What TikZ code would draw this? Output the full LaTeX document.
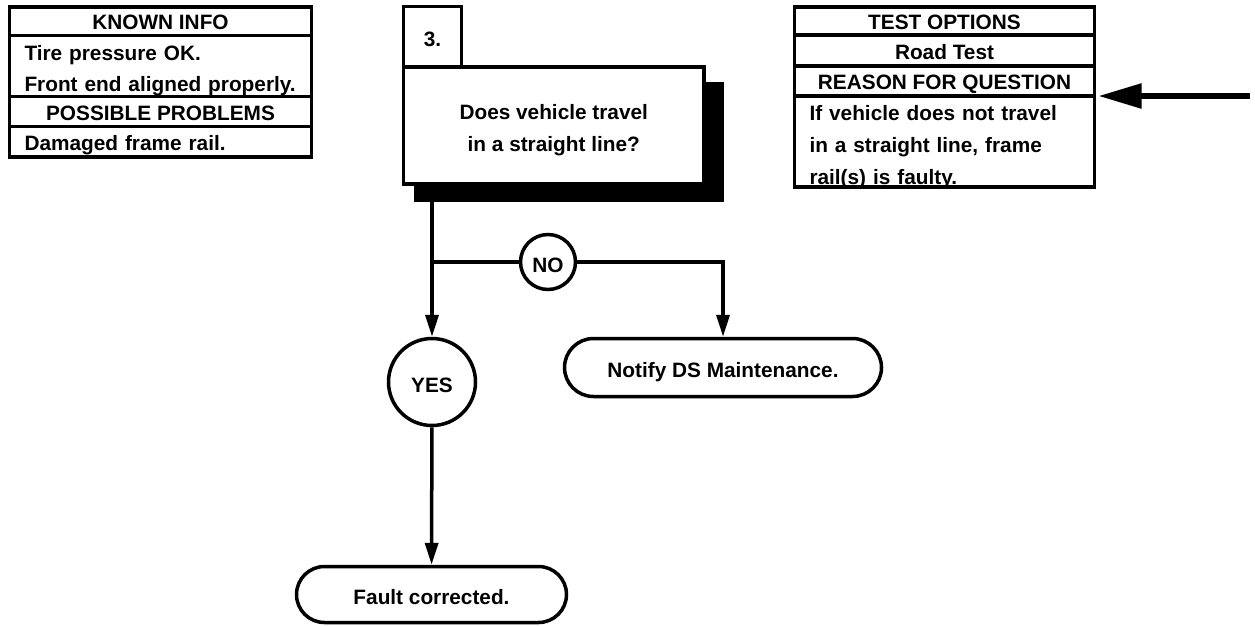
\documentclass[tikz,border=0pt]{standalone}
\usepackage{fontspec}
\setmainfont{Liberation Sans}
\usetikzlibrary{arrows.meta,positioning,shapes.misc,shadows}

\begin{document}
\begin{tikzpicture}[x=1pt,y=-1pt,>={Triangle[length=22pt,width=13pt]},line width=3.5pt,
  font=\bfseries\fontsize{20.8}{31}\selectfont]
  \tikzstyle{cell}=[draw,line width=3.5pt,outer sep=0pt,inner sep=0pt,minimum height=29pt,align=center,text height=17pt,text depth=0pt]
  \tikzstyle{celltxt}=[draw,line width=3.5pt,outer sep=0pt,inner sep=0pt,inner xsep=15pt,align=left]
  \tikzstyle{stepbox}=[draw,outer sep=0pt,inner sep=0pt,align=center,fill=white]
  \tikzstyle{rund}=[draw,circle,inner sep=0pt,fill=white,text height=20pt,text depth=0pt]
  \tikzstyle{ende}=[draw,rounded rectangle,inner sep=0pt,text height=20pt,text depth=0pt]
  \useasboundingbox (0,0) rectangle (1255,625);
  \node[cell,minimum width=302pt,minimum height=28.5pt,anchor=north west] (known) at (9.5,7) {KNOWN INFO};
  \node[celltxt,text width=272pt,minimum height=61pt,text height=25pt,below=0pt of known] (knownbody) {Tire pressure OK.\\Front end aligned properly.};
  \node[cell,minimum width=302pt,minimum height=30pt,below=0pt of knownbody] (probs) {POSSIBLE PROBLEMS};
  \node[celltxt,text width=272pt,minimum height=30.5pt,text height=18pt,text depth=0pt,below=0pt of probs] (probsbody) {Damaged frame rail.};
  \node[cell,minimum width=300pt,minimum height=28pt,anchor=north west] (tests) at (794.5,7) {TEST OPTIONS};
  \node[cell,minimum width=300pt,minimum height=31pt,below=0pt of tests] (road) {Road Test};
  \node[cell,minimum width=300pt,minimum height=30pt,below=0pt of road] (reason) {REASON FOR QUESTION};
  \node[celltxt,text width=270pt,minimum height=91pt,text height=21pt,text depth=64pt,font=\bfseries\fontsize{20.8}{32}\selectfont,below=0pt of reason] (reasonbody) {If vehicle does not travel\\in a straight line, frame\\rail(s) is faulty.};
  \node[stepbox,minimum width=58pt,minimum height=60.5pt,text height=19pt,text depth=0pt,anchor=north west] (nr) at (403.5,6.5) {3.};
  \node[stepbox,minimum width=300.5pt,minimum height=117pt,text height=57pt,font=\bfseries\fontsize{20.8}{32}\selectfont,anchor=north west,
    drop shadow={shadow xshift=14.75pt,shadow yshift=-16pt,shadow scale=1.03,fill=black,opacity=1}] (step) at (403.5,67) {Does vehicle travel\\in a straight line?};
  \coordinate (split) at (432,262);
  \node[rund,minimum size=55pt] (no) at (548,262) {NO};
  \node[rund,minimum size=87pt] (yes) at (432,382) {YES};
  \node[ende,minimum width=317pt,minimum height=58pt] (notify) at (723,367.5) {Notify DS Maintenance.};
  \node[ende,minimum width=270pt,minimum height=56pt] (fault) at (431.5,594.5) {Fault corrected.};
  \coordinate (feed) at (1250,96);
  \draw[->] (step.south -| yes.north) -- (yes.north);
  \draw (split) -- (no);
  \draw[->] (no) -| (notify);
  \draw[->] (yes) -- (fault);
  \draw[->,line width=5.5pt,shorten >=4pt,>={Triangle[length=43pt,width=24pt]}] (feed) -- (reasonbody.north east);
\end{tikzpicture}
\end{document}
